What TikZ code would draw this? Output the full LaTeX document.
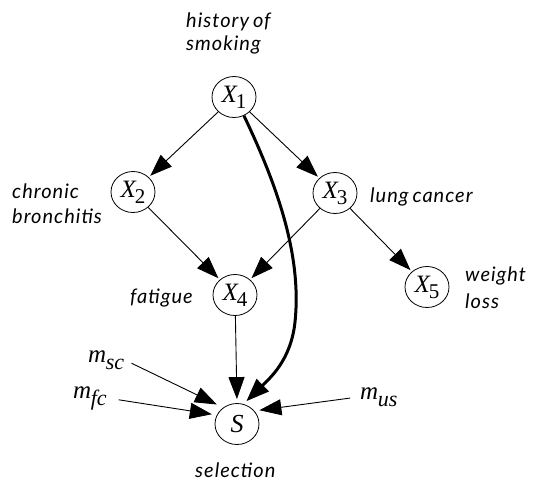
\documentclass[tikz,border=0pt]{standalone}
\usepackage{fontspec}
\setmainfont{Liberation Serif}
\newfontfamily\labelfont[LetterSpace=5,WordSpace=0.7]{Lato}
\usetikzlibrary{arrows.meta,shapes.geometric}

% variable letter with a large, lowered index
\newcommand\varlab[2]{\fontsize{25}{25}\selectfont\itshape #1\kern-1pt\raisebox{-6pt}{\fontsize{21}{21}\selectfont\upshape #2}}
% selection-parameter label m with an italic index
\newcommand\mlab[1]{\fontsize{25}{25}\selectfont\itshape m\kern-0.5pt\raisebox{-7pt}{\fontsize{22}{22}\selectfont #1}}

\begin{document}
\begin{tikzpicture}[x=1pt,y=-1pt,
  var/.style={draw, ellipse, line width=0.8pt, minimum width=44pt, minimum height=41pt, inner sep=0pt},
  lbl/.style={font=\labelfont\itshape\fontsize{20}{22}\selectfont, inner sep=0pt, anchor=base west},
  mnode/.style={inner sep=0pt, anchor=base west},
  arr/.style={line width=0.9pt, -{Triangle[length=22pt,width=16pt]}, shorten >=2pt},
  bold/.style={line width=3pt, -{Triangle[length=23pt,width=17pt]}, shorten >=4pt}]
\path[use as bounding box] (0,0) rectangle (533,483);

% variables
\node[var] (X1) at (234,97)  {\varlab{X}{1}};
\node[var] (X2) at (133,192) {\varlab{X}{2}};
\node[var] (X3) at (335,193) {\varlab{X}{3}};
\node[var] (X4) at (235,295) {\varlab{X}{4}};
\node[var] (X5) at (427,287) {\varlab{X}{5}};
\node[var] (S)  at (237,424) {\fontsize{26}{26}\selectfont\itshape S};

% descriptive labels
\node[lbl] (hs1) at (186,27)  {history of};
\node[lbl] (hs2) at (186,50)  {smoking};
\node[lbl] (cb1) at (12,198)  {chronic};
\node[lbl] (cb2) at (12,223)  {bronchitis};
\node[lbl] (lc)  at (370,202) {lung cancer};
\node[lbl] (wl1) at (465,281) {weight};
\node[lbl] (wl2) at (465,308) {loss};
\node[lbl] (fa)  at (130,303) {fatigue};
\node[lbl] (se)  at (195,477) {selection};

% selection parameters
\node[mnode] (msc) at (88,362)  {\mlab{sc}};
\node[mnode] (mfc) at (73,398)  {\mlab{fc}};
\node[mnode] (mus) at (360,399) {\mlab{us}};

% edges of the network
\draw[arr] (X1) -- (X2);
\draw[arr] (X1) -- (X3);
\draw[arr] (X2) -- (X4);
\draw[arr] (X3) -- (X4);
\draw[arr] (X3) -- (X5);
\draw[arr, shorten >=4pt] (X4) -- (S.90);
\draw[bold] (X1.-62) .. controls (277,185) and (302,255) .. (295,322)
                     .. controls (291,360) and (270,378) .. (S.72);

% edges into the selection node
\draw[arr, shorten <=8pt, shorten >=7pt] (msc.east) -- (S.130);
\draw[arr, shorten <=12pt, shorten >=5pt] (mfc.east) -- (S.156);
\draw[arr, shorten <=10pt, shorten >=5pt] (mus.west) -- (S.37);
\end{tikzpicture}
\end{document}
